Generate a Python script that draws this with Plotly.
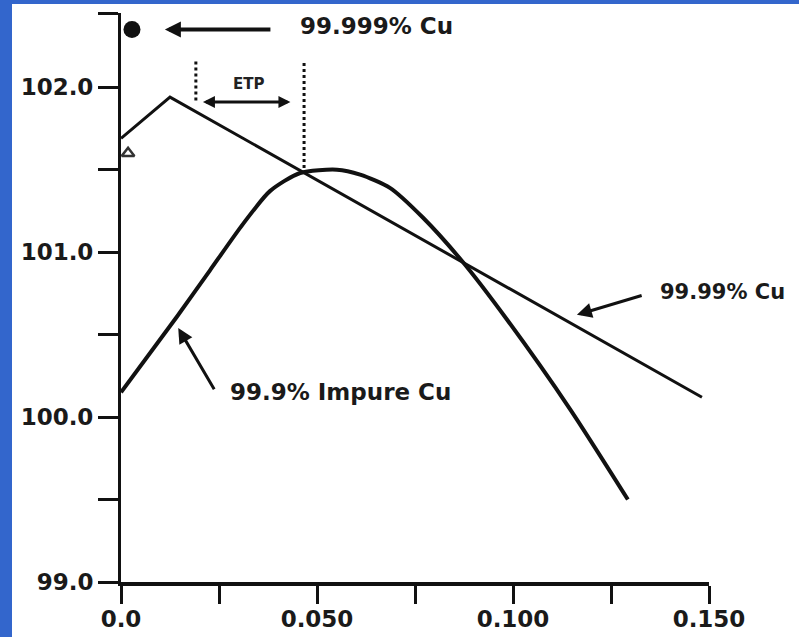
import plotly.graph_objects as go

# ---- data ----
impure_x = [0.0, 0.0143, 0.0227, 0.0311, 0.0380, 0.0457, 0.0551, 0.0610, 0.0686, 0.0770, 0.0872, 0.0985, 0.1145, 0.1293]
impure_y = [100.15, 100.61, 100.89, 101.17, 101.37, 101.48, 101.50, 101.47, 101.39, 101.21, 100.94, 100.59, 100.05, 99.50]

cu9999_x = [0.0, 0.0125, 0.1482]
cu9999_y = [101.69, 101.94, 100.12]

cu99999_x = [0.0028]
cu99999_y = [102.35]

tri_x = [0.0018]
tri_y = [101.60]

etp_left_x = 0.0191
etp_right_x = 0.0467

x_tickvals = [0.0, 0.025, 0.05, 0.075, 0.1, 0.125, 0.15]
x_ticktext = ["0.0", "", "0.050", "", "0.100", "", "0.150"]
y_tickvals = [99.0, 99.5, 100.0, 100.5, 101.0, 101.5, 102.0, 102.45]
y_ticktext = ["99.0", "", "100.0", "", "101.0", "", "102.0", ""]

FONT = "DejaVu Sans"
INK = "#111111"
BLUE = "#3366CC"

fig = go.Figure()

fig.add_trace(go.Scatter(x=cu9999_x, y=cu9999_y, mode="lines",
                         line=dict(color=INK, width=3), showlegend=False, hoverinfo="skip"))
fig.add_trace(go.Scatter(x=impure_x, y=impure_y, mode="lines",
                         line=dict(color=INK, width=4, shape="spline", smoothing=0.7),
                         showlegend=False, hoverinfo="skip"))
fig.add_trace(go.Scatter(x=cu99999_x, y=cu99999_y, mode="markers",
                         marker=dict(color=INK, size=17), showlegend=False, hoverinfo="skip"))
fig.add_trace(go.Scatter(x=tri_x, y=tri_y, mode="markers",
                         marker=dict(color="#333333", size=11, symbol="triangle-up-open",
                                     line=dict(width=2.5)),
                         showlegend=False, hoverinfo="skip"))

# dotted ETP guide lines
fig.add_shape(type="line", x0=etp_left_x, x1=etp_left_x, y0=101.92, y1=102.16,
              xref="x", yref="y", line=dict(color=INK, width=3, dash="dot"))
fig.add_shape(type="line", x0=etp_right_x, x1=etp_right_x, y0=101.51, y1=102.15,
              xref="x", yref="y", line=dict(color=INK, width=3, dash="dot"))

# white page area over the blue paper (leaves a blue strip at left and top)
fig.add_shape(type="rect", xref="paper", yref="paper",
              x0=(12 - 121) / 588, x1=1.3, y0=-0.3, y1=(582 - 4) / 569,
              fillcolor="white", line=dict(width=0), layer="below")

ann_font = dict(family=FONT, size=23, color="#1a1a1a", weight="bold")

# ETP double arrow
fig.add_annotation(x=0.0209, y=101.91, ax=0.0436, ay=101.91, xref="x", yref="y",
                   axref="x", ayref="y", text="", showarrow=True, arrowhead=2,
                   startarrowhead=2, arrowside="end+start", arrowwidth=3, arrowcolor=INK,
                   arrowsize=0.8, startarrowsize=0.8)
fig.add_annotation(x=0.0324, y=102.02, xref="x", yref="y", text="ETP", showarrow=False,
                   font=dict(family=FONT, size=15, color="#222222", weight="bold"))

# 99.999% Cu
fig.add_annotation(x=0.0112, y=102.35, ax=0.0385, ay=102.35, xref="x", yref="y",
                   axref="x", ayref="y", text="", showarrow=True, arrowhead=2,
                   arrowwidth=4, arrowcolor=INK, arrowsize=0.8)
fig.add_annotation(x=0.0452, y=102.37, xref="x", yref="y", text="99.999% Cu",
                   showarrow=False, xanchor="left", yanchor="middle", font=ann_font)

# 99.99% Cu
fig.add_annotation(x=0.1163, y=100.62, ax=0.1332, ay=100.74, xref="x", yref="y",
                   axref="x", ayref="y", text="", showarrow=True, arrowhead=2,
                   arrowwidth=3, arrowcolor=INK, arrowsize=1)
fig.add_annotation(x=0.1370, y=100.76, xref="x", yref="y", text="99.99% Cu",
                   showarrow=False, xanchor="left", yanchor="middle",
                   font=dict(family=FONT, size=21, color="#1a1a1a", weight="bold"))

# 99.9% Impure Cu
fig.add_annotation(x=0.0146, y=100.54, ax=0.0240, ay=100.16, xref="x", yref="y",
                   axref="x", ayref="y", text="", showarrow=True, arrowhead=2,
                   arrowwidth=3, arrowcolor=INK, arrowsize=1)
fig.add_annotation(x=0.0272, y=100.15, xref="x", yref="y", text="99.9% Impure Cu",
                   showarrow=False, xanchor="left", yanchor="middle", font=ann_font)

tick_font = dict(family=FONT, size=23, color="#1a1a1a", weight="bold")

fig.update_layout(
    width=799, height=637,
    margin=dict(l=121, r=90, t=13, b=55, autoexpand=False),
    paper_bgcolor=BLUE, plot_bgcolor="white",
    showlegend=False,
    xaxis=dict(range=[0, 0.15], tickvals=x_tickvals, ticktext=x_ticktext, automargin=False,
               showgrid=False, zeroline=False, showline=True, linecolor=INK, linewidth=4,
               ticks="outside", ticklen=18, tickwidth=3, tickcolor=INK,
               tickfont=tick_font, ticklabelstandoff=-5),
    yaxis=dict(range=[99, 102.45], tickvals=y_tickvals, ticktext=y_ticktext, automargin=False,
               showgrid=False, zeroline=False, showline=True, linecolor=INK, linewidth=3,
               ticks="outside", ticklen=20, tickwidth=3, tickcolor=INK,
               tickfont=tick_font),
)

fig.write_html("out.html", config={"displayModeBar": False},
               post_script="document.body.style.margin='0';document.body.style.overflow='hidden';")
